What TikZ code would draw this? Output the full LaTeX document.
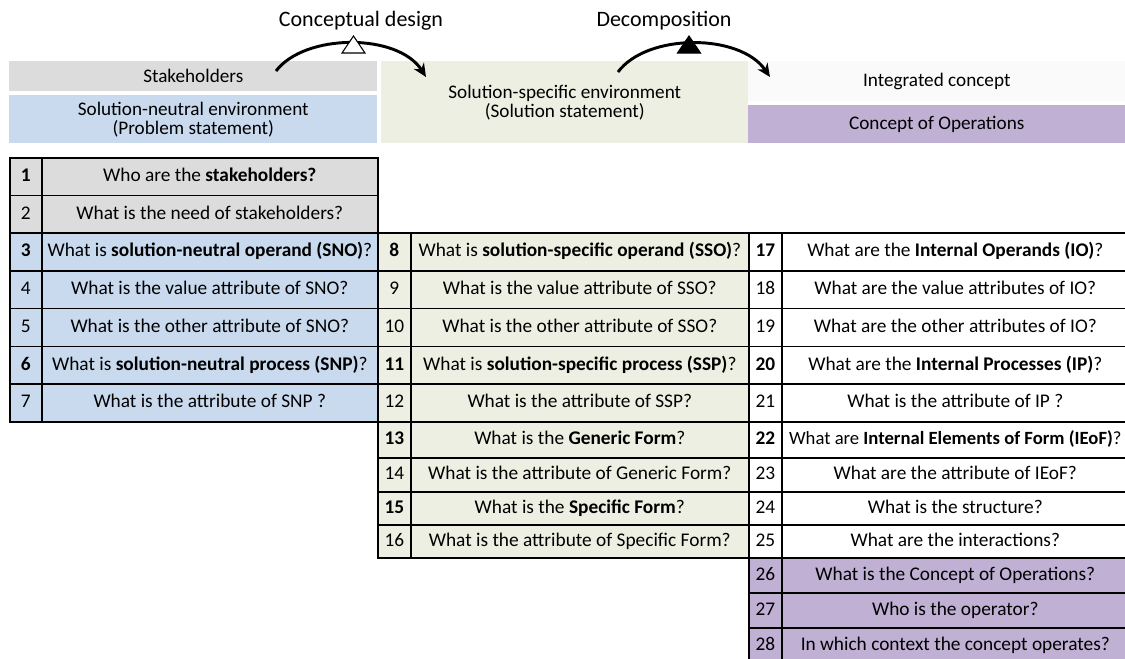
\documentclass[tikz,border=0pt]{standalone}
\usepackage{fontspec}
\setmainfont{Carlito}
\usetikzlibrary{arrows.meta}
\definecolor{gry}{HTML}{DCDCDC}
\definecolor{blu}{HTML}{C9DAEF}
\definecolor{grn}{HTML}{EEEFE3}
\definecolor{pur}{HTML}{BFB0D4}
\definecolor{wht}{HTML}{FAFAFA}
\tikzset{
  cellbox/.style={draw=black, line width=1.2pt, inner sep=0pt, anchor=north west},
  numtext/.style={font=\fontsize{14.5}{16}\selectfont, inner sep=0pt, text height=10.3pt, text depth=2.9pt},
  qtext/.style={font=\fontsize{14.5}{16}\selectfont, inner sep=0pt, text height=10.3pt, text depth=2.9pt},
  hdr/.style={inner sep=0pt, anchor=north west, align=center, font=\fontsize{14.4}{14.25}\selectfont},
  flow/.style={line width=2.2pt, -{Stealth[length=10pt,width=9pt]}},
  ttl/.style={font=\fontsize{16.5}{18}\selectfont, inner sep=0pt},
  trimark/.style={draw=black, line width=0.8pt, line join=miter}
}
\newcommand\qrow[9]{%
  \node[cellbox, fill=#7, minimum width={(#3-#2)*0.75pt}, minimum height={#6*0.75pt}] (n#1) at (#2,#5) {};
  \node[cellbox, fill=#7, minimum width={(#4-#3)*0.75pt}, minimum height={#6*0.75pt}] (q#1) at (#3,#5) {};
  \node[numtext] (tn#1) at (n#1.center) {#8};
  \node[qtext] (tq#1) at (q#1.center) {#9};}
\begin{document}
\begin{tikzpicture}[x=0.75pt, y=-0.75pt]
\useasboundingbox (0,0) rectangle (1125,658);
\fill[white] (0,0) rectangle (1125,658);
% header boxes
\node[hdr, fill=gry, minimum width={368*0.75pt}, minimum height={30*0.75pt}] (stake) at (9,61) {Stakeholders};
\node[hdr, fill=blu, minimum width={368*0.75pt}, minimum height={48*0.75pt}] (sne) at (9,95) {Solution-neutral environment\\(Problem statement)};
\node[hdr, fill=grn, minimum width={367*0.75pt}, minimum height={82*0.75pt}] (sse) at (381,61) {Solution-specific environment\\(Solution statement)};
\node[hdr, fill=wht, minimum width={377*0.75pt}, minimum height={40*0.75pt}] (ic) at (748,61) {Integrated concept};
\node[hdr, fill=pur, minimum width={377*0.75pt}, minimum height={38*0.75pt}] (conops) at (748,105) {Concept of Operations};
% titles and arcs
\node[ttl] (cd) at (361,21) {Conceptual design};
\node[ttl] (dec) at (664,21) {Decomposition};
\coordinate (a1s) at (276,71);
\coordinate (a1e) at (426,77);
\coordinate (a2s) at (618,72);
\coordinate (a2e) at (770,77);
\draw[flow] (a1s) .. controls (305,33) and (398,33) .. (a1e);
\draw[flow] (a2s) .. controls (647,33) and (740,33) .. (a2e);
\coordinate (tri1) at (353.5,45);
\coordinate (tri2) at (689,45);
\draw[trimark, fill=white] ([xshift=-11.5*0.75pt, yshift=-8*0.75pt]tri1) -- ([yshift=9*0.75pt]tri1) -- ([xshift=11.5*0.75pt, yshift=-8*0.75pt]tri1) -- cycle;
\draw[trimark, fill=black] ([xshift=-11.5*0.75pt, yshift=-8*0.75pt]tri2) -- ([yshift=9*0.75pt]tri2) -- ([xshift=11.5*0.75pt, yshift=-8*0.75pt]tri2) -- cycle;
% left table
\qrow{1}{9}{41}{377}{157}{37.7}{gry}{\textbf{1}}{Who are the \textbf{stakeholders?}}
\qrow{2}{9}{41}{377}{194.7}{37.7}{gry}{2}{What is the need of stakeholders?}
\qrow{3}{9}{41}{377}{232.4}{37.7}{blu}{\textbf{3}}{What is \textbf{solution-neutral operand (SNO)}?}
\qrow{4}{9}{41}{377}{270.1}{37.7}{blu}{4}{What is the value attribute of SNO?}
\qrow{5}{9}{41}{377}{307.8}{37.7}{blu}{5}{What is the other attribute of SNO?}
\qrow{6}{9}{41}{377}{345.5}{37.7}{blu}{\textbf{6}}{What is \textbf{solution-neutral process (SNP)}?}
\qrow{7}{9}{41}{377}{383.2}{37.7}{blu}{7}{What is the attribute of SNP ?}
% middle table
\qrow{8}{377}{410}{748}{232.4}{37.7}{grn}{\textbf{8}}{What is \textbf{solution-specific operand (SSO)}?}
\qrow{9}{377}{410}{748}{270.1}{37.7}{grn}{9}{What is the value attribute of SSO?}
\qrow{10}{377}{410}{748}{307.8}{37.7}{grn}{10}{What is the other attribute of SSO?}
\qrow{11}{377}{410}{748}{345.5}{37.7}{grn}{\textbf{11}}{What is \textbf{solution-specific process (SSP)}?}
\qrow{12}{377}{410}{748}{383.2}{37.7}{grn}{12}{What is the attribute of SSP?}
\qrow{13}{377}{410}{748}{420.9}{36}{grn}{\textbf{13}}{What is the \textbf{Generic Form}?}
\qrow{14}{377}{410}{748}{456.9}{34}{grn}{14}{What is the attribute of Generic Form?}
\qrow{15}{377}{410}{748}{490.9}{33}{grn}{\textbf{15}}{What is the \textbf{Specific Form}?}
\qrow{16}{377}{410}{748}{523.9}{33.5}{grn}{16}{What is the attribute of Specific Form?}
% right table
\qrow{17}{748}{781}{1128}{232.4}{37.7}{white}{\textbf{17}}{What are the \textbf{Internal Operands (IO)}?}
\qrow{18}{748}{781}{1128}{270.1}{37.7}{white}{18}{What are the value attributes of IO?}
\qrow{19}{748}{781}{1128}{307.8}{37.7}{white}{19}{What are the other attributes of IO?}
\qrow{20}{748}{781}{1128}{345.5}{37.7}{white}{\textbf{20}}{What are the \textbf{Internal Processes (IP)}?}
\qrow{21}{748}{781}{1128}{383.2}{37.7}{white}{21}{What is the attribute of IP ?}
\qrow{22}{748}{781}{1128}{420.9}{36}{white}{\textbf{22}}{\fontsize{14}{16}\selectfont What are \textbf{Internal Elements of Form (IEoF)}?}
\qrow{23}{748}{781}{1128}{456.9}{34}{white}{23}{What are the attribute of IEoF?}
\qrow{24}{748}{781}{1128}{490.9}{33}{white}{24}{What is the structure?}
\qrow{25}{748}{781}{1128}{523.9}{33.5}{white}{25}{What are the interactions?}
\qrow{26}{748}{781}{1128}{557.4}{35}{pur}{26}{What is the Concept of Operations?}
\qrow{27}{748}{781}{1128}{592.4}{35}{pur}{27}{Who is the operator?}
\qrow{28}{748}{781}{1128}{627.4}{35}{pur}{28}{In which context the concept operates?}
\end{tikzpicture}
\end{document}
